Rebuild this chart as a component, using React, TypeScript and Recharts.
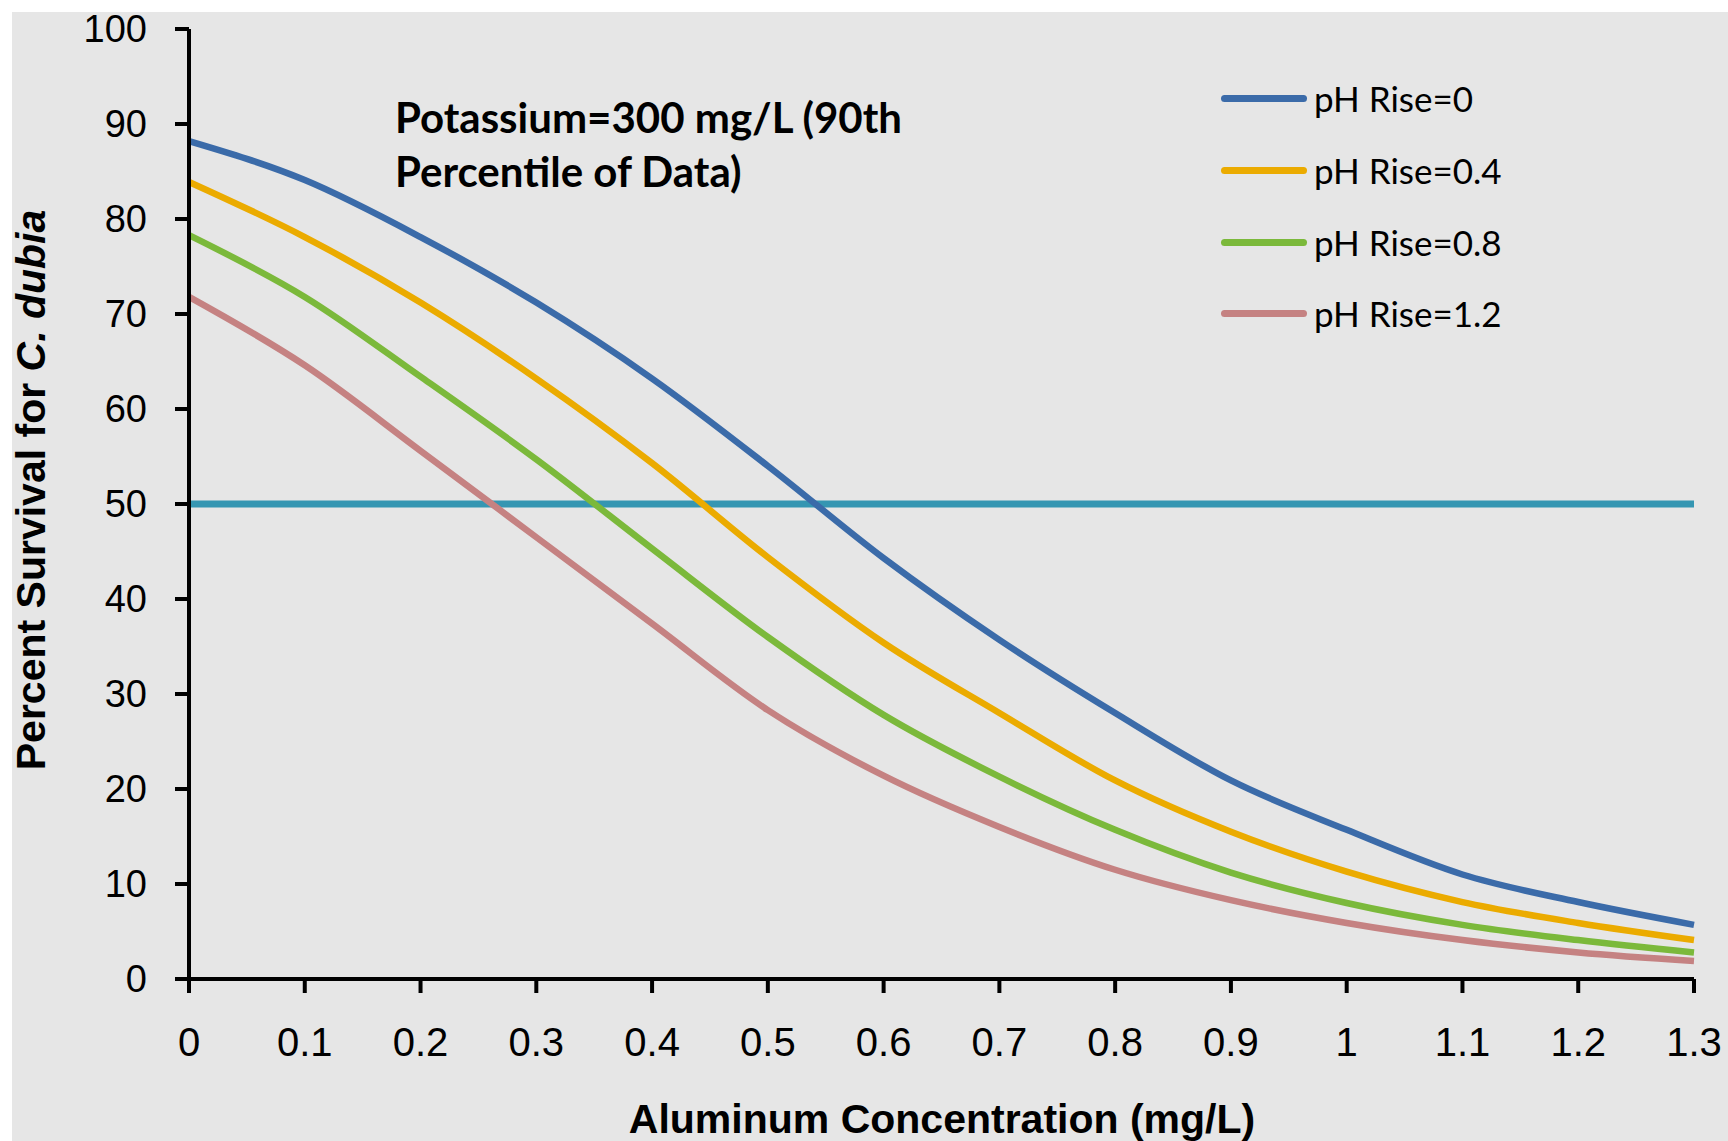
import React from "react";
import { LineChart, Line, XAxis, YAxis, Legend, Label } from "recharts";

const aluminum = [0, 0.1, 0.2, 0.3, 0.4, 0.5, 0.6, 0.7, 0.8, 0.9, 1, 1.1, 1.2, 1.3];
const phRise0 = [88.2, 84.1, 78.1, 71.2, 63.2, 54.0, 44.3, 35.7, 28.0, 20.9, 15.7, 11.0, 8.1, 5.7];
const phRise04 = [83.9, 78.1, 71.2, 63.2, 54.3, 44.4, 35.4, 28.0, 20.9, 15.5, 11.3, 8.1, 5.9, 4.1];
const phRise08 = [78.3, 71.8, 63.4, 54.7, 45.3, 36.0, 27.8, 21.3, 15.7, 11.2, 8.0, 5.7, 4.1, 2.8];
const phRise12 = [71.8, 64.6, 55.6, 46.5, 37.4, 28.3, 21.4, 16.0, 11.5, 8.3, 5.9, 4.1, 2.8, 1.9];
const survival50 = [50, 50, 50, 50, 50, 50, 50, 50, 50, 50, 50, 50, 50, 50];
const yTicks = [0, 10, 20, 30, 40, 50, 60, 70, 80, 90, 100];

const series = [
  { key: "ph0", name: "pH Rise=0", color: "#3b6ba9", values: phRise0 },
  { key: "ph04", name: "pH Rise=0.4", color: "#ebab00", values: phRise04 },
  { key: "ph08", name: "pH Rise=0.8", color: "#7bb93b", values: phRise08 },
  { key: "ph12", name: "pH Rise=1.2", color: "#c58282", values: phRise12 },
];

const data = aluminum.map((x, i) => {
  const row: Record<string, number> = { x, half: survival50[i] };
  series.forEach((s) => (row[s.key] = s.values[i]));
  return row;
});

const axisFont = "'Liberation Sans', Arial, sans-serif";
const calibriLike = "Lato, 'Open Sans', sans-serif";

function LegendBox({ payload }: any) {
  const names = series.map((s) => s.name);
  const items = (payload ?? []).filter((p: any) => names.includes(p.value));
  return (
    <div>
      {items.map((p: any) => (
        <div key={p.value} style={{ display: "flex", alignItems: "center", height: 71.7 }}>
          <div style={{ width: 86, height: 7, borderRadius: 4, background: p.color }} />
          <span style={{ marginLeft: 7, fontSize: 35, fontFamily: calibriLike, color: "#000", lineHeight: 1 }}>
            {p.value}
          </span>
        </div>
      ))}
    </div>
  );
}

export default function App() {
  return (
    <div style={{ position: "absolute", left: 0, top: 0, width: 1728, height: 1141, background: "#fff", overflow: "hidden" }}>
      <div style={{ position: "absolute", left: 12, top: 12, width: 1716, height: 1129, background: "#e6e6e6" }} />
      <div style={{ position: "absolute", left: 0, top: 0 }}>
        <LineChart width={1728} height={1141} data={data} margin={{ top: 29, right: 34, bottom: 0, left: 0 }}>
          <XAxis
            dataKey="x"
            type="number"
            domain={[0, 1.3]}
            ticks={aluminum}
            interval={0}
            height={162}
            tickSize={14}
            tickMargin={35}
            axisLine={{ stroke: "#000", strokeWidth: 4 }}
            tickLine={{ stroke: "#000", strokeWidth: 4 }}
            tick={{ fontSize: 40, fill: "#000", fontFamily: axisFont }}
          >
            <Label
              content={() => (
                <text x={942} y={1133} textAnchor="middle" fontSize={41} fontWeight="bold" fontFamily={axisFont} fill="#000">
                  Aluminum Concentration (mg/L)
                </text>
              )}
            />
          </XAxis>
          <YAxis
            type="number"
            domain={[0, 100]}
            ticks={yTicks}
            interval={0}
            width={189}
            tickSize={14}
            tickMargin={28}
            axisLine={{ stroke: "#000", strokeWidth: 4 }}
            tickLine={{ stroke: "#000", strokeWidth: 4 }}
            tick={{ fontSize: 38, fill: "#000", fontFamily: axisFont }}
          >
            <Label
              content={() => (
                <text transform="translate(45, 490) rotate(-90)" textAnchor="middle" fontSize={41} fontWeight="bold" fontFamily={axisFont} fill="#000">
                  Percent Survival for <tspan fontStyle="italic">C. dubia</tspan>
                </text>
              )}
            />
          </YAxis>
          <Legend
            layout="vertical"
            align="center"
            verticalAlign="middle"
            content={<LegendBox />}
            wrapperStyle={{ left: 1221, top: 63, width: "auto", bottom: "auto", right: "auto" }}
          />
          <Line
            dataKey="half"
            type="linear"
            stroke="#3596b2"
            strokeWidth={7}
            dot={false}
            activeDot={false}
            legendType="none"
            isAnimationActive={false}
          />
          {series.map((s) => (
            <Line
              key={s.key}
              dataKey={s.key}
              name={s.name}
              type="monotone"
              stroke={s.color}
              strokeWidth={6.5}
              dot={false}
              activeDot={false}
              isAnimationActive={false}
            />
          ))}
        </LineChart>
      </div>
      <div
        style={{
          position: "absolute",
          left: 395,
          top: 90,
          fontFamily: calibriLike,
          fontWeight: "bold",
          fontSize: 42,
          lineHeight: "54px",
          color: "#000",
          whiteSpace: "nowrap",
        }}
      >
        Potassium=300 mg/L (90th
        <br />
        Percentile of Data)
      </div>
    </div>
  );
}
